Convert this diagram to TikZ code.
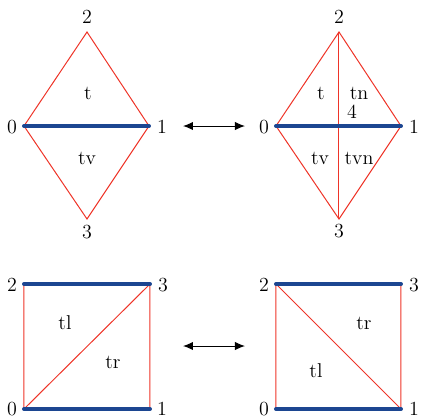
\documentclass[tikz,border=0pt]{standalone}
\usetikzlibrary{arrows.meta}
\definecolor{edgered}{RGB}{238,52,40}
\definecolor{edgeblue}{RGB}{28,70,145}
\tikzset{
  redge/.style={draw=edgered,line width=0.6pt},
  bedge/.style={draw=edgeblue,line width=2.4pt,line cap=round},
  lbl/.style={inner sep=0pt,font=\large},
  swap/.style={{Latex[length=6pt,width=5pt]}-{Latex[length=6pt,width=5pt]},line width=0.6pt}
}
\begin{document}
\begin{tikzpicture}[x=0.6pt,y=-0.6pt]
\useasboundingbox (0,0) rectangle (422,418);
% top-left diamond
\coordinate (a0) at (24,126); \coordinate (a1) at (149,126);
\coordinate (a2) at (87,32);  \coordinate (a3) at (87,219);
\draw[redge] (a0) -- (a2) -- (a1) -- (a3) -- cycle;
\draw[bedge] (a0) -- (a1);
\node[lbl] at (12,127) {0}; \node[lbl] at (162,127) {1};
\node[lbl] at (87,17) {2};  \node[lbl] at (87,232) {3};
\node[lbl] at (88,93) {t};  \node[lbl] at (87,158) {tv};
% top-right diamond
\coordinate (b0) at (276,126); \coordinate (b1) at (401,126);
\coordinate (b2) at (339,32);  \coordinate (b3) at (339,219);
\draw[redge] (b0) -- (b2) -- (b1) -- (b3) -- cycle;
\draw[redge] (b2) -- (b3);
\draw[bedge] (b0) -- (b1);
\node[lbl] at (264,127) {0}; \node[lbl] at (414,127) {1};
\node[lbl] at (339,17) {2};  \node[lbl] at (339,231) {3};
\node[lbl] at (321,93) {t};  \node[lbl] at (359,93) {tn};
\node[lbl] at (352,112) {4};
\node[lbl] at (320,158) {tv}; \node[lbl] at (359,158) {tvn};
% top arrow
\coordinate (ta) at (183,126); \coordinate (tb) at (245,126);
\draw[swap] (ta) -- (tb);
% bottom-left square
\coordinate (c0) at (24,409); \coordinate (c1) at (150,409);
\coordinate (c2) at (24,284); \coordinate (c3) at (150,284);
\draw[redge] (c2) -- (c0) (c1) -- (c3) (c0) -- (c3);
\draw[bedge] (c2) -- (c3);
\draw[bedge] (c0) -- (c1);
\node[lbl] at (12,285) {2}; \node[lbl] at (163,285) {3};
\node[lbl] at (12,409) {0}; \node[lbl] at (162,409) {1};
\node[lbl] at (65,323) {tl}; \node[lbl] at (113,362) {tr};
% bottom-right square
\coordinate (d0) at (276,409); \coordinate (d1) at (401,409);
\coordinate (d2) at (276,284); \coordinate (d3) at (401,284);
\draw[redge] (d2) -- (d0) (d1) -- (d3) (d2) -- (d1);
\draw[bedge] (d2) -- (d3);
\draw[bedge] (d0) -- (d1);
\node[lbl] at (264,285) {2}; \node[lbl] at (414,285) {3};
\node[lbl] at (264,409) {0}; \node[lbl] at (414,409) {1};
\node[lbl] at (364,323) {tr}; \node[lbl] at (316,371) {tl};
% bottom arrow
\coordinate (ba) at (183,346); \coordinate (bb) at (245,346);
\draw[swap] (ba) -- (bb);
\end{tikzpicture}
\end{document}
